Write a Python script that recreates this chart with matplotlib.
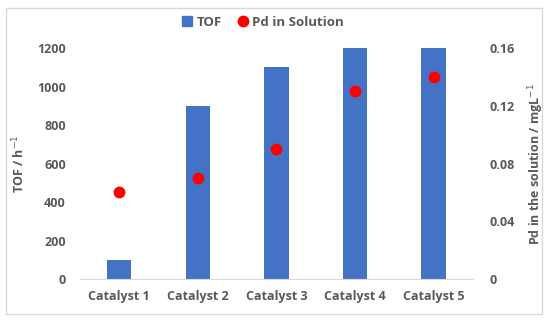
import matplotlib
matplotlib.use("Agg")
import matplotlib.pyplot as plt
from matplotlib.lines import Line2D
from matplotlib.patches import Rectangle

categories = ["Catalyst 1", "Catalyst 2", "Catalyst 3", "Catalyst 4", "Catalyst 5"]
tof = [100, 900, 1100, 1200, 1200]
pd_sol = [0.06, 0.07, 0.09, 0.13, 0.14]
left_ticks = [0, 200, 400, 600, 800, 1000, 1200]
right_ticks = [0, 0.04, 0.08, 0.12, 0.16]
right_labels = ["0", "0.04", "0.08", "0.12", "0.16"]

txt = "#595959"
plt.rcParams['font.family'] = ['Open Sans', 'DejaVu Sans']
W = "bold"
FS = 9

fig = plt.figure(figsize=(5.5, 3.2), dpi=100)
fig.patches.append(Rectangle((0.01, 0.02), 0.975, 0.955, transform=fig.transFigure,
                             fill=False, edgecolor="#d9d9d9", linewidth=1))
ax = fig.add_axes([0.145, 0.128, 0.715, 0.722])
x = list(range(len(categories)))
ax.bar(x, tof, width=0.31, color="#4472C4", zorder=2)
ax.set_ylim(0, 1200)
ax.set_xlim(-0.5, 4.5)
ax.set_yticks(left_ticks)
ax.set_xticks(x)
ax.set_xticklabels(categories)
for s in ["top", "right", "left"]:
    ax.spines[s].set_visible(False)
ax.spines["bottom"].set_color("#d9d9d9")
ax.tick_params(length=0, colors=txt, labelsize=FS, pad=10)
ax.tick_params(axis='x', pad=8)
for lab in ax.get_xticklabels() + ax.get_yticklabels():
    lab.set_fontweight(W)
ax.set_ylabel("TOF / h$^{-1}$", color=txt, fontsize=FS, fontweight=W, labelpad=7)

ax2 = ax.twinx()
ax2.plot(x, pd_sol, linestyle="none", marker="o", markersize=7.5, color="#FF0000", zorder=3)
ax2.set_ylim(0, 0.16)
ax2.set_yticks(right_ticks)
ax2.set_yticklabels(right_labels)
for s in ["top", "right", "left", "bottom"]:
    ax2.spines[s].set_visible(False)
ax2.tick_params(length=0, colors=txt, labelsize=FS, pad=12)
for lab in ax2.get_yticklabels():
    lab.set_fontweight(W)
ax2.set_ylabel("Pd in the solution / mgL$^{-1}$", color=txt, fontsize=FS,
               fontweight=W, labelpad=8)

handles = [Line2D([], [], linestyle="none", marker="s", markersize=7, color="#4472C4"),
           Line2D([], [], linestyle="none", marker="o", markersize=7.5, color="#FF0000")]
leg = fig.legend(handles, ["TOF", "Pd in Solution"], loc="center", bbox_to_anchor=(0.478, 0.93),
                 ncol=2, frameon=False, handlelength=0.8, handletextpad=0.3, columnspacing=1.2,
                 prop={'weight': W, 'size': 9.5})
for t in leg.get_texts():
    t.set_color(txt)

fig.savefig("out.png", dpi=100)
